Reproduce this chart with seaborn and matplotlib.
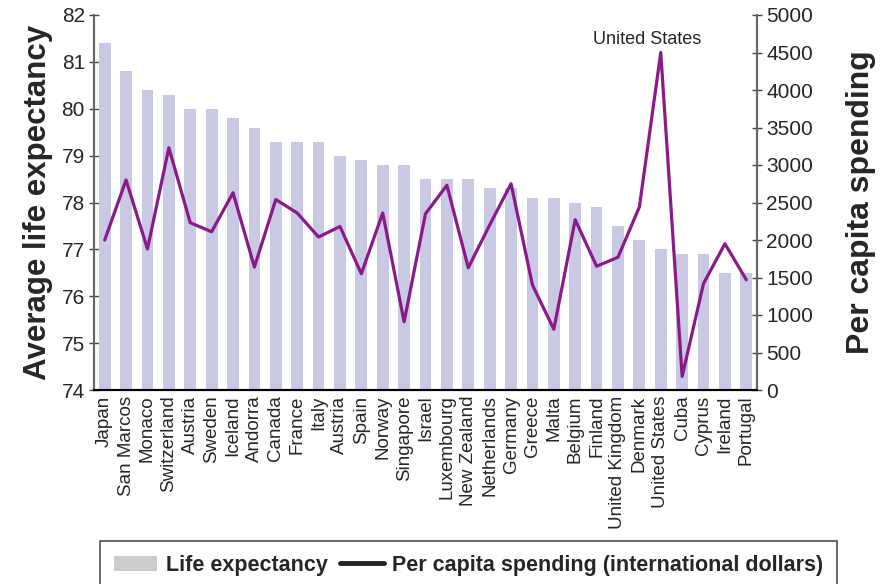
import matplotlib
matplotlib.use("Agg")
import matplotlib.pyplot as plt
import numpy as np
import pandas as pd
import seaborn as sns
from matplotlib.lines import Line2D
from matplotlib.patches import Patch
from matplotlib.ticker import MultipleLocator

countries = ["Japan", "San Marcos", "Monaco", "Switzerland", "Austria", "Sweden",
             "Iceland", "Andorra", "Canada", "France", "Italy", "Austria", "Spain",
             "Norway", "Singapore", "Israel", "Luxembourg", "New Zealand", "Netherlands",
             "Germany", "Greece", "Malta", "Belgium", "Finland", "United Kingdom",
             "Denmark", "United States", "Cuba", "Cyprus", "Ireland", "Portugal"]
life_expectancy = [81.4, 80.8, 80.4, 80.3, 80.0, 80.0, 79.8, 79.6, 79.3, 79.3, 79.3,
                   79.0, 78.9, 78.8, 78.8, 78.5, 78.5, 78.5, 78.3, 78.3, 78.1, 78.1,
                   78.0, 77.9, 77.5, 77.2, 77.0, 76.9, 76.9, 76.5, 76.5]
spending = [2000, 2800, 1880, 3230, 2230, 2110, 2630, 1640, 2540, 2360, 2040, 2180,
            1550, 2360, 910, 2350, 2730, 1630, 2200, 2750, 1400, 810, 2270, 1650,
            1770, 2440, 4500, 180, 1420, 1950, 1470]

bar_color = "#c9c9e4"
line_color = "#8b1a89"

sns.set_style("white")
plt.rcParams["font.family"] = ["Liberation Sans", "DejaVu Sans"]

df = pd.DataFrame({"country": range(len(countries)),
                   "life": life_expectancy,
                   "spend": spending})

fig = plt.figure(figsize=(8.9, 5.84), dpi=100)
ax = fig.add_axes([94 / 890, 1 - 390 / 584, (757 - 94) / 890, (390 - 15) / 584])

# bars start from the bottom of the axis (74)
ax.bar(df["country"], df["life"] - 74, bottom=74, width=0.55, color=bar_color,
       edgecolor="none", zorder=1)
ax.set_xlim(-0.5, len(countries) - 0.5)
ax.set_ylim(74, 82)
ax.yaxis.set_major_locator(MultipleLocator(1))

ax2 = ax.twinx()
sns.lineplot(x="country", y="spend", data=df, ax=ax2, color=line_color,
             linewidth=2.3, zorder=3)
ax2.set_ylim(0, 5000)
ax2.yaxis.set_major_locator(MultipleLocator(500))
ax2.set_xlim(-0.5, len(countries) - 0.5)
ax2.set_xlabel("")

us = countries.index("United States")
ax2.annotate("United States", (us, spending[us]), xytext=(-10, 3),
             textcoords="offset points", ha="center", va="bottom", fontsize=13)

# category labels at bar centres, tick marks between bars
ax.set_xticks(range(len(countries)))
ax.set_xticklabels(countries, rotation=90, fontsize=13.5)
ax.tick_params(axis="x", which="major", length=0, pad=4)
ax.set_xticks(np.arange(0.5, len(countries) - 0.5, 1), minor=True)
ax.tick_params(axis="x", which="minor", direction="inout", length=8, width=1.2,
               color="black")

ax.tick_params(axis="y", direction="inout", length=7, width=1, color="#444444",
               labelsize=15, pad=3)
ax2.tick_params(axis="y", direction="inout", length=7, width=1, color="#444444",
                labelsize=15, pad=3)

for a in (ax, ax2):
    a.spines["top"].set_visible(False)
    a.spines["left"].set_color("#666666")
    a.spines["right"].set_color("#666666")
    a.spines["bottom"].set_color("black")
    a.spines["left"].set_linewidth(1.5)
    a.spines["right"].set_linewidth(1.5)
    a.spines["bottom"].set_linewidth(1.5)

ax.set_ylabel("Average life expectancy", fontsize=22.5, fontweight="bold", labelpad=6)
ax2.set_ylabel("Per capita spending", fontsize=23, fontweight="bold", labelpad=24)

handles = [Patch(facecolor="#cccccc", edgecolor="none", label="Life expectancy"),
           Line2D([0], [0], color="#222222", linewidth=3.5,
                  label="Per capita spending (international dollars)")]
leg = fig.legend(handles=handles, loc="upper left", bbox_to_anchor=(100 / 890, 1 - 541 / 584),
                 borderaxespad=0, ncol=2, frameon=True, fancybox=False,
                 prop={"weight": "bold", "size": 15.5}, handlelength=2.0,
                 columnspacing=0.6, handletextpad=0.4, borderpad=0.65)
leg.get_frame().set_edgecolor("#222222")
leg.get_frame().set_linewidth(1.2)

fig.savefig("out.png", dpi=100)
